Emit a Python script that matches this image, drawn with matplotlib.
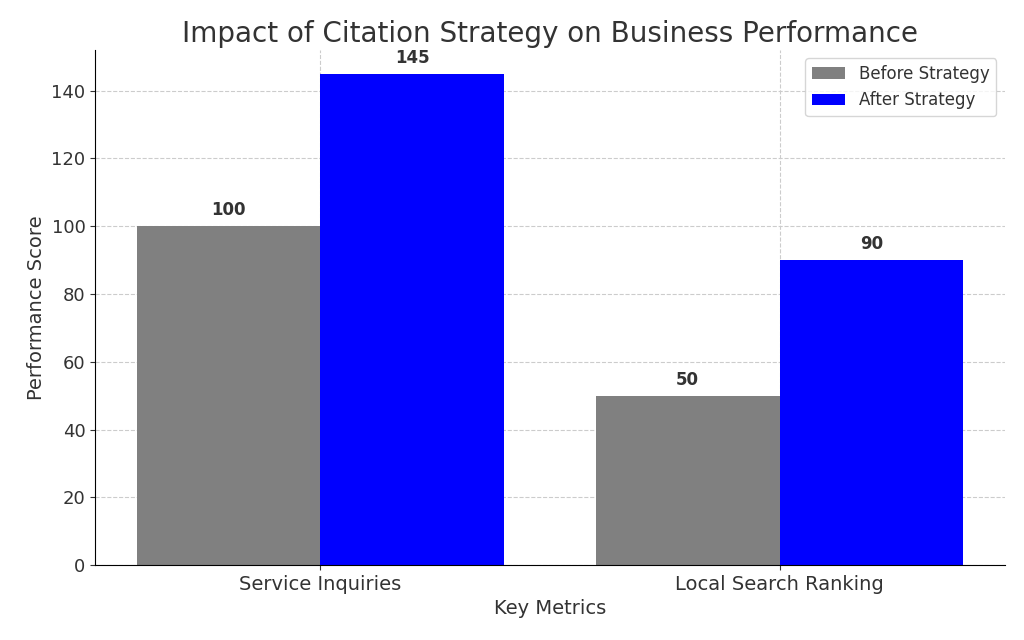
import matplotlib
matplotlib.use("Agg")
import matplotlib.pyplot as plt
import numpy as np

categories = ["Service Inquiries", "Local Search Ranking"]
before = [100, 50]
after = [145, 90]
series_names = ["Before Strategy", "After Strategy"]

plt.rcParams["text.color"] = "#333333"
plt.rcParams["axes.labelcolor"] = "#333333"
plt.rcParams["xtick.color"] = "#333333"
plt.rcParams["ytick.color"] = "#333333"

fig = plt.figure(figsize=(10.24, 6.4), dpi=100)
ax = fig.add_axes([0.093, 0.117, 0.888, 0.805])
x = np.arange(len(categories))
w = 0.4
b1 = ax.bar(x - w / 2, before, w, color="gray", label=series_names[0], zorder=2)
b2 = ax.bar(x + w / 2, after, w, color="blue", label=series_names[1], zorder=2)
for bars in (b1, b2):
    for r in bars:
        ax.text(r.get_x() + r.get_width() / 2, r.get_height() + 2, f"{r.get_height():.0f}",
                ha="center", va="bottom", fontsize=12, fontweight="bold")

ax.set_xticks(x)
ax.set_xticklabels(categories, fontsize=14)
ax.tick_params(axis="y", labelsize=13)
ax.set_xlim(-0.49, 1.49)
ax.set_ylim(0, 152)
ax.set_xlabel("Key Metrics", fontsize=14)
ax.set_ylabel("Performance Score", fontsize=14)
ax.set_title("Impact of Citation Strategy on Business Performance", fontsize=20, pad=6)
ax.grid(True, linestyle="--", color="#cccccc", linewidth=0.8, zorder=0)
ax.spines["top"].set_visible(False)
ax.spines["right"].set_visible(False)
ax.legend(loc="upper right", fontsize=12)
fig.savefig("out.png", dpi=100)
